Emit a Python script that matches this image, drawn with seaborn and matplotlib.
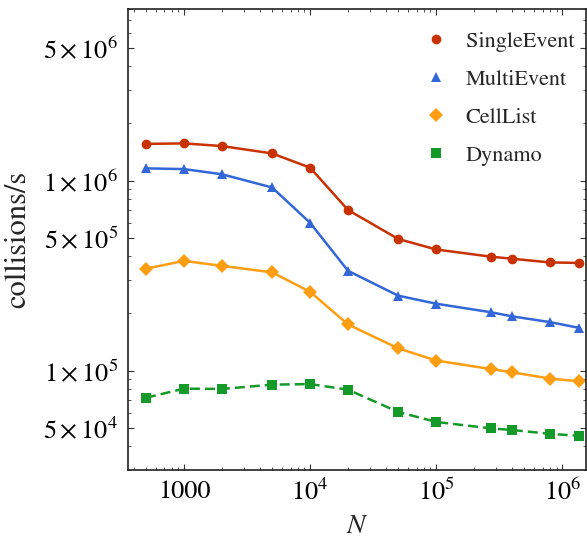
import matplotlib
matplotlib.use("Agg")
import matplotlib.pyplot as plt
import matplotlib.ticker as mticker
from matplotlib.lines import Line2D
import seaborn as sns
import pandas as pd

# collision rate vs system size
n_values = [500, 1000, 2000, 5000, 10000, 20000, 50000, 100000,
            270000, 400000, 800000, 1350000]
single_event = [1.56e6, 1.57e6, 1.52e6, 1.39e6, 1.17e6, 7.0e5,
                4.93e5, 4.34e5, 3.98e5, 3.88e5, 3.71e5, 3.69e5]
multi_event = [1.16e6, 1.15e6, 1.08e6, 9.2e5, 6.0e5, 3.35e5,
               2.48e5, 2.25e5, 2.03e5, 1.93e5, 1.80e5, 1.68e5]
cell_list = [3.44e5, 3.78e5, 3.56e5, 3.29e5, 2.60e5, 1.75e5,
             1.31e5, 1.13e5, 1.02e5, 9.8e4, 9.08e4, 8.79e4]
dynamo = [7.2e4, 8.04e4, 8.01e4, 8.44e4, 8.5e4, 7.94e4,
          6.06e4, 5.37e4, 4.97e4, 4.87e4, 4.65e4, 4.54e4]

methods = ["SingleEvent", "MultiEvent", "CellList", "Dynamo"]
series = [single_event, multi_event, cell_list, dynamo]
colors = {"SingleEvent": "#C83200", "MultiEvent": "#3366D6",
          "CellList": "#FF9E12", "Dynamo": "#149A28"}
markers = {"SingleEvent": "o", "MultiEvent": "^", "CellList": "D", "Dynamo": "s"}
dashes = {"SingleEvent": "", "MultiEvent": "", "CellList": "", "Dynamo": (4, 2)}

rows = []
for name, vals in zip(methods, series):
    for n, v in zip(n_values, vals):
        rows.append({"N": n, "rate": v, "method": name})
df = pd.DataFrame(rows)

sns.set_style("ticks")
plt.rcParams["font.family"] = ["STIXGeneral", "DejaVu Serif"]
plt.rcParams["mathtext.fontset"] = "stix"

fig = plt.figure(figsize=(5.87, 5.4), dpi=100)
ax = fig.add_axes([128 / 587, 1 - 470 / 540, 458 / 587, 461 / 540])

sns.lineplot(data=df, x="N", y="rate", hue="method", style="method",
             hue_order=methods, style_order=methods, palette=colors,
             markers=markers, dashes=dashes, linewidth=1.8,
             markersize=7, markeredgewidth=0, legend=False, ax=ax)

ax.set_xscale("log")
ax.set_yscale("log")
ax.set_xlim(360, 1.54e6)
ax.set_ylim(3.0e4, 8.0e6)

xt = [1000, 1e4, 1e5, 1e6]
ax.xaxis.set_major_locator(mticker.FixedLocator(xt))
ax.xaxis.set_major_formatter(mticker.FixedFormatter(
    ["1000", r"$10^{4}$", r"$10^{5}$", r"$10^{6}$"]))
ax.xaxis.set_minor_locator(mticker.LogLocator(base=10, subs=[2, 3, 4, 5, 6, 7, 8, 9]))
ax.xaxis.set_minor_formatter(mticker.NullFormatter())

yt = [5e4, 1e5, 5e5, 1e6, 5e6]
ax.yaxis.set_major_locator(mticker.FixedLocator(yt))
ax.yaxis.set_major_formatter(mticker.FixedFormatter(
    [r"$5\times10^{4}$", r"$1\times10^{5}$", r"$5\times10^{5}$",
     r"$1\times10^{6}$", r"$5\times10^{6}$"]))
ax.yaxis.set_minor_locator(mticker.LogLocator(base=10, subs=[1, 2, 3, 4, 5, 6, 7, 8, 9]))
ax.yaxis.set_minor_formatter(mticker.NullFormatter())

ax.tick_params(which="both", direction="in", top=True, right=True,
               colors="#333333", labelcolor="black", labelsize=19)
ax.tick_params(which="major", length=4, width=0.8, pad=7)
ax.tick_params(which="minor", length=2, width=0.6)
for side in ax.spines.values():
    side.set_linewidth(1.2)
    side.set_color("#222222")

ax.set_xlabel("$N$", fontsize=20, labelpad=6)
ax.set_ylabel("collisions/s", fontsize=22, labelpad=8)

handles = [Line2D([], [], linestyle="none", marker=markers[m], color=colors[m],
                  markersize=7, markeredgewidth=0) for m in methods]
ax.legend(handles, methods, loc="upper right", frameon=False, fontsize=16,
          labelspacing=0.78, handletextpad=0.35, borderaxespad=0.3,
          bbox_to_anchor=(1.008, 0.985))

fig.savefig("out.png", dpi=100)
